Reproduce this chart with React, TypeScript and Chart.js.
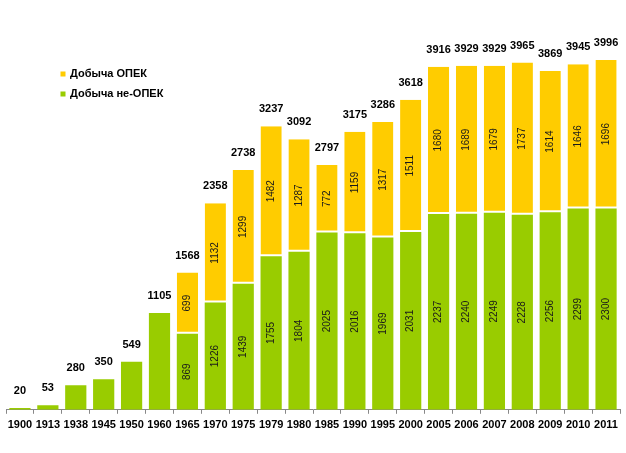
import { useEffect, useRef } from "react";
import { Chart, registerables } from "chart.js";

Chart.register(...registerables);

const years = ["1900", "1913", "1938", "1945", "1950", "1960", "1965", "1970", "1975", "1979", "1980", "1985", "1990", "1995", "2000", "2005", "2006", "2007", "2008", "2009", "2010", "2011"];
const nonOpec = [20, 53, 280, 350, 549, 1105, 869, 1226, 1439, 1755, 1804, 2025, 2016, 1969, 2031, 2237, 2240, 2249, 2228, 2256, 2299, 2300];
const opec: (number | null)[] = [null, null, null, null, null, null, 699, 1132, 1299, 1482, 1287, 772, 1159, 1317, 1511, 1680, 1689, 1679, 1737, 1614, 1646, 1696];
const totals = [20, 53, 280, 350, 549, 1105, 1568, 2358, 2738, 3237, 3092, 2797, 3175, 3286, 3618, 3916, 3929, 3929, 3965, 3869, 3945, 3996];
const legendLabels = ["Добыча ОПЕК", "Добыча не-ОПЕК"];

const GREEN = "#99CC00";
const YELLOW = "#FFCC00";
const FONT = "'Liberation Sans', Arial, sans-serif";

const labelPlugin = {
  id: "labels",
  afterDatasetsDraw(chart: any) {
    const ctx = chart.ctx as CanvasRenderingContext2D;
    const metaG = chart.getDatasetMeta(0);
    const metaY = chart.getDatasetMeta(1);
    ctx.save();
    for (let i = 0; i < years.length; i++) {
      const g = metaG.data[i] as any;
      const y = metaY.data[i] as any;
      const hasOpec = opec[i] != null;
      const top = hasOpec ? y.y : g.y;
      ctx.fillStyle = "#000";
      ctx.font = `bold 11px ${FONT}`;
      ctx.textAlign = "center";
      ctx.textBaseline = "middle";
      ctx.fillText(String(totals[i]), g.x, top - 17);
      if (hasOpec) {
        ctx.font = `10px ${FONT}`;
        ctx.fillStyle = "#1a1a1a";
        const segs: [number, number, number][] = [
          [nonOpec[i], g.y, g.base],
          [opec[i] as number, y.y, y.base],
        ];
        for (const [v, t, b] of segs) {
          ctx.save();
          ctx.translate(g.x, (t + b) / 2);
          ctx.rotate(-Math.PI / 2);
          ctx.fillText(String(v), 0, 0);
          ctx.restore();
        }
      }
    }
    // legend
    const colors = [YELLOW, GREEN];
    ctx.font = `bold 11px ${FONT}`;
    ctx.textAlign = "left";
    ctx.textBaseline = "middle";
    legendLabels.forEach((t, k) => {
      const cy = 74 + k * 20;
      ctx.fillStyle = colors[k];
      ctx.fillRect(60.5, cy - 2.5, 5, 5);
      ctx.fillStyle = "#000";
      ctx.fillText(t, 70, cy);
    });
    ctx.restore();
  },
};

export default function App() {
  const ref = useRef<HTMLCanvasElement | null>(null);
  useEffect(() => {
    if (!ref.current) return;
    const chart = new Chart(ref.current, {
      type: "bar",
      data: {
        labels: years,
        datasets: [
          {
            label: legendLabels[1],
            data: nonOpec,
            backgroundColor: GREEN,
            barPercentage: 0.76,
            categoryPercentage: 1,
          },
          {
            label: legendLabels[0],
            data: opec,
            backgroundColor: YELLOW,
            borderColor: "#ffffff",
            borderWidth: { top: 0, left: 0, right: 0, bottom: 2 },
            borderSkipped: false,
            barPercentage: 0.76,
            categoryPercentage: 1,
          },
        ],
      },
      options: {
        responsive: false,
        animation: false,
        devicePixelRatio: 1,
        layout: { padding: { left: 6, right: 6, top: 0, bottom: 16 } },
        plugins: { legend: { display: false }, tooltip: { enabled: false } },
        scales: {
          x: {
            stacked: true,
            grid: { offset: true, drawOnChartArea: false, tickLength: 4, color: "#888" },
            border: { color: "#888", width: 1 },
            ticks: { font: { family: FONT, size: 11, weight: "bold" }, color: "#000", padding: 5, autoSkip: false, maxRotation: 0 },
          },
          y: { stacked: true, display: false, min: 0, max: 4680 },
        },
      },
      plugins: [labelPlugin],
    });
    return () => chart.destroy();
  }, []);
  return (
    <div style={{ position: "absolute", left: 0, top: 0, width: 626, height: 453, background: "#fff" }}>
      <canvas ref={ref} width={626} height={453} />
    </div>
  );
}
